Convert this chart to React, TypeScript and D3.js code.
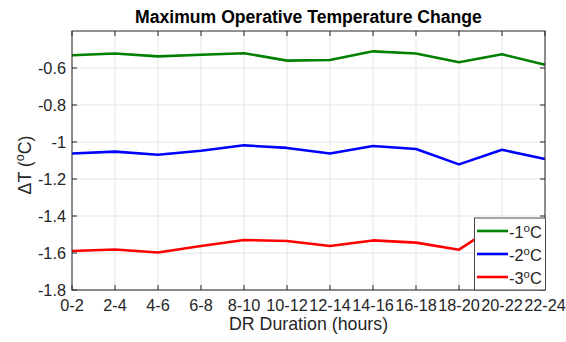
import React from "react";
import * as d3 from "d3";

const categories = ["0-2", "2-4", "4-6", "6-8", "8-10", "10-12", "12-14", "14-16", "16-18", "18-20", "20-22", "22-24"];
const seriesNames = ["-1", "-2", "-3"];
const seriesColors = ["#008000", "#0000ff", "#ff0000"];
const minus1 = [-0.531, -0.522, -0.537, -0.528, -0.520, -0.560, -0.557, -0.510, -0.522, -0.569, -0.526, -0.582];
const minus2 = [-1.062, -1.052, -1.069, -1.047, -1.018, -1.032, -1.062, -1.022, -1.038, -1.121, -1.042, -1.092];
const minus3 = [-1.589, -1.581, -1.597, -1.562, -1.530, -1.535, -1.562, -1.532, -1.544, -1.582, -1.43, -1.595];
const yTicks = [-1.8, -1.6, -1.4, -1.2, -1, -0.8, -0.6];
const yDomain = [-1.8, -0.4];

const W = 566, H = 342;
const m = { left: 72, right: 21, top: 31, bottom: 52 };
const FONT = "'Liberation Sans', Arial, Helvetica, sans-serif";
const AX = "#262626";
const FS = 16.3;
const LFS = 17.8;

export default function App() {
  const x = d3.scalePoint<string>().domain(categories).range([m.left, W - m.right]).padding(0);
  const y = d3.scaleLinear().domain(yDomain).range([H - m.bottom, m.top]);
  const line = d3.line<number>().x((_, i) => x(categories[i]) as number).y((d) => y(d));
  const series = [minus1, minus2, minus3];
  const x0 = m.left, x1 = W - m.right, y0 = H - m.bottom, y1 = m.top;
  const tl = 5;
  const lg = { x: 474.5, y: 218, w: 71, h: 72 };
  return (
    <svg width={W} height={H} style={{ position: "absolute", left: 0, top: 0, background: "#fff" }} fontFamily={FONT}>
      <rect x={0} y={0} width={W} height={H} fill="#fff" />
      {categories.map((c) => (
        <line key={"gx" + c} x1={x(c)} x2={x(c)} y1={y0} y2={y1} stroke="#dedede" strokeWidth={0.8} />
      ))}
      {yTicks.map((t) => (
        <line key={"gy" + t} x1={x0} x2={x1} y1={y(t)} y2={y(t)} stroke="#dedede" strokeWidth={0.8} />
      ))}
      {series.map((s, i) => (
        <path key={"s" + i} d={line(s) || ""} fill="none" stroke={seriesColors[i]} strokeWidth={2.6} strokeLinejoin="round" />
      ))}
      <rect x={x0} y={y1} width={x1 - x0} height={y0 - y1} fill="none" stroke={AX} strokeWidth={1} />
      {categories.map((c) => (
        <g key={"tx" + c}>
          <line x1={x(c)} x2={x(c)} y1={y0} y2={y0 - tl} stroke={AX} />
          <line x1={x(c)} x2={x(c)} y1={y1} y2={y1 + tl} stroke={AX} />
          <text x={x(c)} y={311} textAnchor="middle" fontSize={FS} fill={AX}>{c}</text>
        </g>
      ))}
      {yTicks.map((t) => (
        <g key={"ty" + t}>
          <line x1={x0} x2={x0 + tl} y1={y(t)} y2={y(t)} stroke={AX} />
          <line x1={x1} x2={x1 - tl} y1={y(t)} y2={y(t)} stroke={AX} />
          <text x={66} y={y(t)} dy="0.35em" textAnchor="end" fontSize={FS} fill={AX}>{String(t)}</text>
        </g>
      ))}
      <text x={(x0 + x1) / 2} y={23} textAnchor="middle" fontSize={17.6} fontWeight="bold" fill="#000">Maximum Operative Temperature Change</text>
      <text x={(x0 + x1) / 2} y={330} textAnchor="middle" fontSize={LFS} fill={AX}>DR Duration (hours)</text>
      <text transform={`translate(31,165) rotate(-90)`} textAnchor="middle" fontSize={LFS} fill={AX}>
        ΔT (<tspan fontSize={12.5} dy={-7}>o</tspan><tspan dy={7}>C)</tspan>
      </text>
      <rect x={lg.x} y={lg.y} width={lg.w} height={lg.h} fill="#fff" stroke="#4a4a4a" strokeWidth={1} />
      {seriesNames.map((n, i) => {
        const ry = 231 + i * 23;
        return (
          <g key={"lg" + n}>
            <line x1={477} x2={508} y1={ry} y2={ry} stroke={seriesColors[i]} strokeWidth={2.6} />
            <text x={509} y={ry} dy="0.4em" fontSize={FS} fill={AX}>
              {n}<tspan fontSize={11.5} dy={-6}>o</tspan><tspan dy={6}>C</tspan>
            </text>
          </g>
        );
      })}
    </svg>
  );
}
